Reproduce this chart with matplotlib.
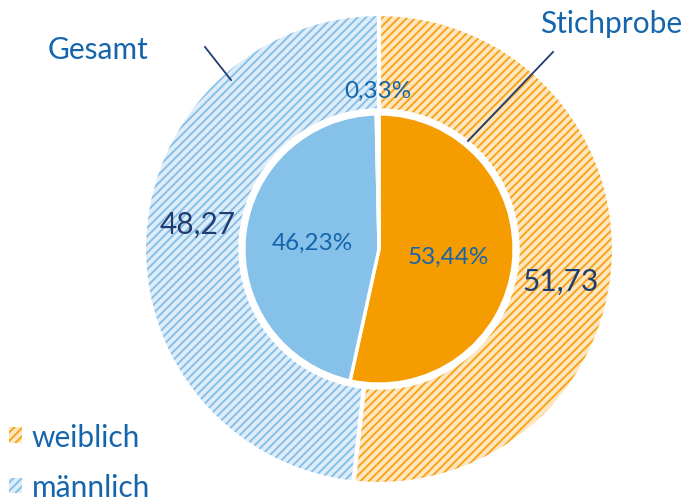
import numpy as np
import matplotlib.pyplot as plt

plt.rcParams['font.family'] = ['Lato', 'DejaVu Sans']
plt.rcParams['hatch.linewidth'] = 1.4

# data
labels = ['weiblich', 'männlich', 'keine Angabe']
gesamt = [51.73, 48.27]
stichprobe = [53.44, 46.23, 0.33]

solid_colors = ['#F59C00', '#85C1E9', '#FFFFFF']
light_colors = ['#FDE6C0', '#DFEDF9']
hatch_colors = ['#F7A41A', '#86C0EA']
text_blue = '#1565AD'
dark_blue = '#1F3D70'

W, H = 685, 502
cx, cy, R = 379, 250, 235

fig = plt.figure(figsize=(W / 100, H / 100), dpi=100)
ax = fig.add_axes([(cx - R) / W, (H - cy - R) / H, 2 * R / W, 2 * R / H])

# outer ring (Gesamt), hatched
ring, _ = ax.pie(gesamt, radius=1, startangle=90, counterclock=False,
                 colors=light_colors, wedgeprops=dict(width=0.41, linewidth=0))
for w, hc in zip(ring, hatch_colors):
    w.set_edgecolor(hc)
    w.set_hatch('////')
    w.set_linewidth(0)
# white separators on the ring
ax.pie(gesamt, radius=1, startangle=90, counterclock=False,
       wedgeprops=dict(width=0.41, facecolor='none', edgecolor='white', linewidth=3))

# inner pie (Stichprobe)
ax.pie(stichprobe, radius=0.575, startangle=90, counterclock=False,
       colors=solid_colors, wedgeprops=dict(edgecolor='white', linewidth=2.5))
ax.set_xlim(-1, 1)
ax.set_ylim(-1, 1)

# overlay for text in pixel coords
ov = fig.add_axes([0, 0, 1, 1])
ov.set_xlim(0, W)
ov.set_ylim(H, 0)
ov.axis('off')
ov.patch.set_visible(False)

def fmt(v):
    return f'{v:.2f}'.replace('.', ',')

ov.text(378, 91, fmt(stichprobe[2]) + '%', fontsize=17.5, color=text_blue, ha='center', va='center')
ov.text(312, 243, fmt(stichprobe[1]) + '%', fontsize=17.5, color=text_blue, ha='center', va='center')
ov.text(448, 257, fmt(stichprobe[0]) + '%', fontsize=17.5, color=text_blue, ha='center', va='center')
ov.text(198, 225, fmt(gesamt[1]), fontsize=21.5, color=dark_blue, ha='center', va='center')
ov.text(560, 282, fmt(gesamt[0]), fontsize=21.5, color=dark_blue, ha='center', va='center')

ov.text(98, 50, 'Gesamt', fontsize=21.5, color=text_blue, ha='center', va='center')
ov.text(611, 24, 'Stichprobe', fontsize=21.5, color=text_blue, ha='center', va='center')
ov.plot([205, 231], [48, 81], color=dark_blue, lw=1.3)
ov.plot([553, 468], [53, 142], color=dark_blue, lw=1.3)

leg = ov.legend(ring, labels[:2], loc='lower left', bbox_to_anchor=(9 / W, 0),
                bbox_transform=fig.transFigure,
                frameon=False, fontsize=21.5, labelcolor=text_blue,
                handlelength=0.42, handleheight=0.42, handletextpad=0.35,
                labelspacing=0.75, borderaxespad=0, borderpad=0)

fig.savefig('out.png', dpi=100)
